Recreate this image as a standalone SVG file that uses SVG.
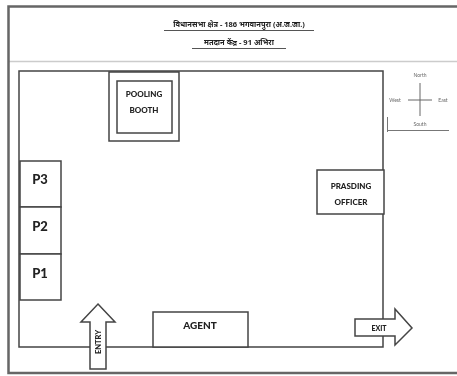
<svg xmlns="http://www.w3.org/2000/svg" width="457" height="376" viewBox="0 0 457 376">
<style>
.l{fill:none;stroke:#444;stroke-width:1.5}
.b{fill:#fff;stroke:#444;stroke-width:1.5}
text{font-family:"Lato","Liberation Sans",sans-serif;fill:#222;text-anchor:middle}
.h{font-family:"Noto Sans","DejaVu Sans","Liberation Sans",sans-serif;font-size:7.5px;font-weight:700}
.n{font-size:8px;font-weight:900}
.p{font-size:13px;font-weight:900}
.c{font-size:5px;fill:#666}
</style>
<defs><filter id="s" x="-5%" y="-5%" width="110%" height="110%"><feGaussianBlur stdDeviation="0.45"/></filter></defs>
<rect width="457" height="376" fill="#fff"/>
<g filter="url(#s)">
<g id="frame">
<path d="M8 61.500H457" stroke="#ccc" stroke-width="1.500"/>
<path d="M457 6.500H8.500V373H457" fill="none" stroke="#666" stroke-width="2.500"/>
</g>
<g id="title">
<text class="h" x="239" y="27">विधानसभा क्षेत्र - 186 भगवानपुरा (अ.ज.जा.)</text>
<path d="M164 30.500H314" stroke="#555"/>
<text class="h" x="239" y="45">मतदान केंद्र - 91 अभिरा</text>
<path d="M192 48.500H286" stroke="#555"/>
</g>
<g id="connectors">
<path class="l" d="M383 319V71H19V347H383V336"/>
</g>
<g id="pooling-booth">
<rect class="b" x="109" y="72" width="70" height="69"/>
<rect class="b" x="117" y="81" width="55" height="52"/>
<text class="n" x="144" y="97">POOLING</text>
<text class="n" x="144" y="113">BOOTH</text>
</g>
<g id="p3"><rect class="b" x="20" y="161" width="41" height="46"/><text class="p" x="40" y="184">P3</text></g>
<g id="p2"><rect class="b" x="20" y="207" width="41" height="47"/><text class="p" x="40" y="231">P2</text></g>
<g id="p1"><rect class="b" x="20" y="254" width="41" height="46"/><text class="p" x="40" y="278">P1</text></g>
<g id="presiding-officer">
<rect class="b" x="317" y="170" width="67" height="44"/>
<text class="n" x="351" y="189">PRASDING</text>
<text class="n" x="351" y="205">OFFICER</text>
</g>
<g id="agent"><rect class="b" x="153" y="312" width="95" height="35"/><text class="n" x="200" y="329" style="font-size:10px">AGENT</text></g>
<g id="entry">
<path class="b" d="M98 304L115 322H106V369H90V322H81Z"/>
<text class="n" transform="translate(101 342) rotate(-90)" style="font-size:7.500px">ENTRY</text>
</g>
<g id="exit">
<path class="b" d="M355 319H395V309L412 328L395 345V336H355Z"/>
<text class="n" x="379" y="331" style="font-size:7px">EXIT</text>
</g>
<g id="compass">
<path d="M408 100H432M420 83V116" stroke="#666"/>
<path d="M387.500 117V132M387 130.500H449" stroke="#777" fill="none"/>
<text class="c" x="420" y="77">North</text>
<text class="c" x="395" y="102">West</text>
<text class="c" x="443" y="102">East</text>
<text class="c" x="420" y="126">South</text>
</g>
</g>
</svg>
